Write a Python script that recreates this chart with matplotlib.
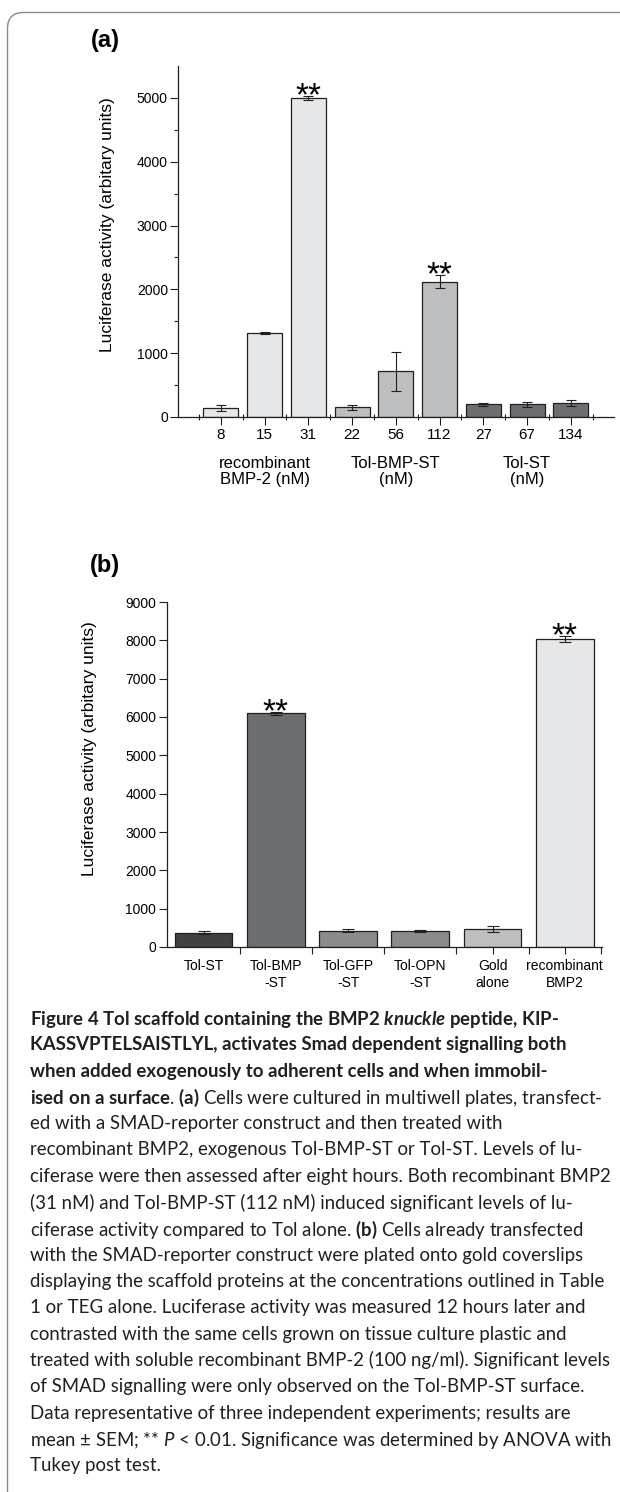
import matplotlib
matplotlib.use("Agg")
import matplotlib.pyplot as plt
from matplotlib.patches import FancyBboxPatch
from matplotlib.transforms import IdentityTransform
import numpy as np

plt.rcParams['font.family'] = ['Liberation Sans', 'DejaVu Sans']
plt.rcParams['mathtext.fontset'] = 'custom'
plt.rcParams['mathtext.rm'] = 'Lato'
plt.rcParams['mathtext.it'] = 'Lato:italic'
plt.rcParams['mathtext.bf'] = 'Lato:bold'
plt.rcParams['mathtext.bfit'] = 'Lato:bold:italic'

# panel (a): exogenous treatment
conc_a = ['8', '15', '31', '22', '56', '112', '27', '67', '134']
groups_a = ['recombinant\nBMP-2 (nM)', 'Tol-BMP-ST\n(nM)', 'Tol-ST\n(nM)']
lucif_a = [140, 1320, 5000, 150, 720, 2120, 200, 200, 215]
sem_a = [45, 15, 30, 35, 305, 105, 25, 40, 45]
stars_a = ['', '', '**', '', '', '**', '', '', '']
colors_a = ['#e6e7e8'] * 3 + ['#bcbec0'] * 3 + ['#6d6e71'] * 3

# panel (b): surfaces
labels_b = ['Tol-ST', 'Tol-BMP\n-ST', 'Tol-GFP\n-ST', 'Tol-OPN\n-ST', 'Gold\nalone', 'recombinant\nBMP2']
lucif_b = [378, 6100, 425, 415, 470, 8040]
sem_b = [30, 40, 35, 35, 90, 80]
stars_b = ['', '**', '', '', '', '**']
colors_b = ['#414042', '#6d6e71', '#8a8c8e', '#8a8c8e', '#bcbec0', '#e6e7e8']

caption_lines = [
    r"Figure 4 Tol scaffold containing the BMP2 $\mathbfit{knuckle}$ peptide, KIP-",
    "KASSVPTELSAISTLYL, activates Smad dependent signalling both",
    "when added exogenously to adherent cells and when immobil-",
    r"$\mathbf{ised\ on\ a\ surface}$. $\mathbf{(a)}$ Cells were cultured in multiwell plates, transfect-",
    "ed with a SMAD-reporter construct and then treated with",
    "recombinant BMP2, exogenous Tol-BMP-ST or Tol-ST. Levels of lu-",
    "ciferase were then assessed after eight hours. Both recombinant BMP2",
    "(31 nM) and Tol-BMP-ST (112 nM) induced significant levels of lu-",
    r"ciferase activity compared to Tol alone. $\mathbf{(b)}$ Cells already transfected",
    "with the SMAD-reporter construct were plated onto gold coverslips",
    "displaying the scaffold proteins at the concentrations outlined in Table",
    "1 or TEG alone. Luciferase activity was measured 12 hours later and",
    "contrasted with the same cells grown on tissue culture plastic and",
    "treated with soluble recombinant BMP-2 (100 ng/ml). Significant levels",
    "of SMAD signalling were only observed on the Tol-BMP-ST surface.",
    "Data representative of three independent experiments; results are",
    r"mean ± SEM; ** $\mathit{P}$ < 0.01. Significance was determined by ANOVA with",
    "Tukey post test.",
]
caption_bold = [True, True, True] + [False] * 15

W, H = 620, 1492
ink = '#231f20'
fig = plt.figure(figsize=(W / 100, H / 100), dpi=100)


def fx(px):
    return px / W


def fy(py):
    return 1 - py / H


# rounded frame top-left
frame = FancyBboxPatch((7.5, -20), 700, H - 12.5 + 20,
                       boxstyle="round,pad=0,rounding_size=16",
                       transform=IdentityTransform(), fill=False,
                       edgecolor='#8a8a8a', linewidth=1)
fig.add_artist(frame)


def style_axis(ax):
    for side in ['top', 'right']:
        ax.spines[side].set_visible(False)
    for side in ['left', 'bottom']:
        ax.spines[side].set_color(ink)
        ax.spines[side].set_linewidth(0.9)


# ---- panel (a)
ax1 = fig.add_axes([fx(178.3), fy(417), (613.7 - 178.3) / W, (417 - 66) / H])
x_a = np.arange(len(lucif_a))
ax1.bar(x_a, lucif_a, width=0.8, color=colors_a, edgecolor=ink, linewidth=0.9,
        yerr=sem_a, capsize=3.4,
        error_kw=dict(ecolor=ink, elinewidth=0.8, capthick=0.8))
ax1.set_xlim(-0.97, 8.98)
ax1.set_ylim(0, 5500)
ax1.set_yticks(np.arange(0, 5001, 1000))
ax1.set_yticks(np.arange(500, 5001, 1000), minor=True)
ax1.set_xticks(x_a, conc_a)
ax1.set_xticks(np.append(x_a - 0.5, 8.5), minor=True)
ax1.tick_params(axis='y', which='major', length=6, width=0.8, color=ink, labelsize=10, pad=1.5)
ax1.tick_params(axis='y', which='minor', length=3, width=0.8, color=ink)
ax1.tick_params(axis='x', which='major', length=6, width=0.8, color=ink, labelsize=11, pad=2)
ax1.tick_params(axis='x', which='minor', length=4, width=0.8, color=ink, direction='inout')
style_axis(ax1)
ax1.set_ylabel('Luciferase activity (arbitary units)', fontsize=12.5)
ax1.yaxis.set_label_coords(-0.145, 0.547)
for i, g in enumerate(groups_a):
    ax1.text(x_a[3 * i + 1], -0.11, g, transform=ax1.get_xaxis_transform(),
             ha='center', va='top', fontsize=12, linespacing=1.1)
for xi, v, e, s in zip(x_a, lucif_a, sem_a, stars_a):
    if s:
        ax1.annotate(s, (xi, v + e), xytext=(0, -7), textcoords='offset points',
                     ha='center', va='baseline', fontsize=24)
fig.text(fx(105), fy(41), '(a)', fontsize=17, fontweight='bold', ha='center', va='center')

# ---- panel (b)
ax2 = fig.add_axes([fx(166.7), fy(947), (601.7 - 166.7) / W, (947 - 602) / H])
x_b = np.arange(len(lucif_b))
ax2.bar(x_b, lucif_b, width=0.8, color=colors_b, edgecolor=ink, linewidth=0.9,
        yerr=sem_b, capsize=4.6,
        error_kw=dict(ecolor=ink, elinewidth=0.8, capthick=0.8))
ax2.set_xlim(-0.51, 5.51)
ax2.set_ylim(0, 9000)
ax2.set_yticks(np.arange(0, 9001, 1000))
ax2.xaxis.remove_overlapping_locs = False
ax2.set_xticks([0.5, 1.5, 2.5, 3.5, 4, 4.5, 5, 5.5], [''] * 8)
ax2.set_xticks(x_b, labels_b, minor=True)
ax2.tick_params(axis='y', which='major', length=6, width=0.8, color=ink, labelsize=10, pad=1.5)
ax2.tick_params(axis='x', which='major', length=5, width=0.8, color=ink)
ax2.tick_params(axis='x', which='minor', length=0, labelsize=10, pad=9)
style_axis(ax2)
ax2.set_ylabel('Luciferase activity (arbitary units)', fontsize=12.5)
ax2.yaxis.set_label_coords(-0.16, 0.574)
for xi, v, e, s in zip(x_b, lucif_b, sem_b, stars_b):
    if s:
        ax2.annotate(s, (xi, v + e), xytext=(0, -7), textcoords='offset points',
                     ha='center', va='baseline', fontsize=24)
fig.text(fx(105), fy(566), '(b)', fontsize=17, fontweight='bold', ha='center', va='center')

# ---- caption, sized so the longest line fills the column
renderer = fig.canvas.get_renderer()
probe = fig.text(0, 0, caption_lines[6], fontsize=12, family='Lato')
probe_w = probe.get_window_extent(renderer).width
probe.remove()
cap_size = 12 * (612 - 30) / probe_w

for i, (line, bold) in enumerate(zip(caption_lines, caption_bold)):
    fig.text(fx(30), fy(1017 + i * 26.3), line, fontsize=cap_size, family='Lato',
             fontweight='bold' if bold else 'normal', color=ink,
             ha='left', va='center_baseline')

fig.savefig('out.png', dpi=100)
